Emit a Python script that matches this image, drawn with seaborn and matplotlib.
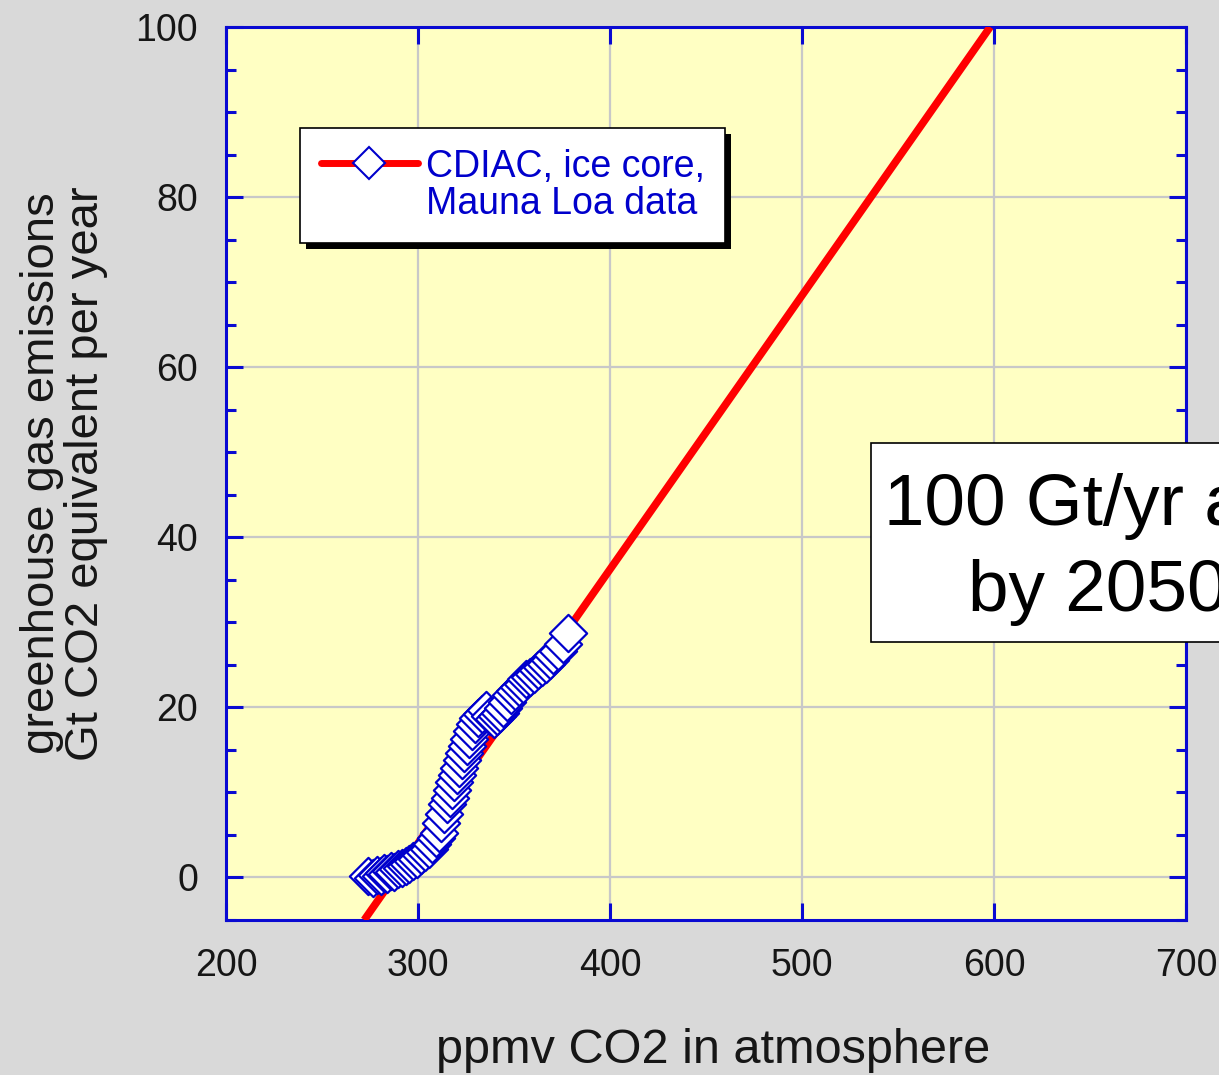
import matplotlib
matplotlib.use("Agg")
import matplotlib.pyplot as plt
import matplotlib.patheffects as pe
from matplotlib.lines import Line2D
from matplotlib.patches import Rectangle
from matplotlib.ticker import MultipleLocator
import seaborn as sns
import pandas as pd

# Atmospheric CO2 (ppmv) against greenhouse gas emissions (Gt CO2-eq per year)
co2_ppmv = [274.0, 276.5, 278.5, 280.5, 282.5, 284.0, 286.0, 287.5, 289.5, 291.5,
            293.5, 295.5, 297.5, 299.5, 301.5, 303.5, 305.5, 307.5, 309.5, 311.0,
            311.8, 313.5, 315.0, 316.5, 317.8, 319.0, 320.3, 321.5, 322.8, 324.0,
            325.3, 326.5, 328.0, 329.8, 331.5, 333.5, 335.5, 337.5, 339.5, 341.0,
            342.5, 344.5, 346.5, 348.5, 350.5, 352.5, 354.5, 356.5, 358.5, 360.5,
            362.5, 364.5, 366.5, 368.5, 370.5, 373.0, 375.5, 378.0]
emissions_gt = [0.2, -0.1, 0.3, 0.2, 0.5, 0.4, 0.8, 0.7, 1.0, 1.1,
                1.4, 1.6, 1.9, 2.2, 2.6, 3.0, 3.4, 3.9, 4.6, 5.2,
                6.4, 7.5, 8.6, 9.4, 10.3, 11.2, 12.0, 12.9, 13.8, 14.6,
                15.5, 16.3, 17.2, 18.0, 18.7, 19.2, 19.7, 19.0, 18.6, 19.0,
                19.3, 19.9, 20.6, 21.4, 21.9, 22.4, 22.8, 23.3, 23.6, 23.9,
                24.4, 24.8, 25.1, 25.6, 26.1, 26.6, 27.4, 28.8]

# Linear trend extended to 100 Gt/yr
trend_ppmv = [272.0, 598.0]
trend_gt = [-5.0, 100.0]

x_ticks = [200, 300, 400, 500, 600, 700]
y_ticks = [0, 20, 40, 60, 80, 100]

legend_lines = ["CDIAC, ice core,", "Mauna Loa data"]
x_label = "ppmv CO2 in atmosphere"
y_label = "greenhouse gas emissions\nGt CO2 equivalent per year"
note_line1 = "100 Gt/yr at"
note_line2 = "by 2050"

sns.set_theme(style="ticks")
plt.rcParams["font.family"] = ["Liberation Sans", "DejaVu Sans"]

BLUE = "#0a0ad2"
MARK_BLUE = "#0000cc"
INK = "#161616"

fig = plt.figure(figsize=(12.19, 10.75), dpi=100, facecolor="#d9d9d9")
ax = fig.add_axes([0.1854, 0.1442, 0.7875, 0.8307])
ax.set_facecolor("#ffffc3")

obs = pd.DataFrame({"ppmv": co2_ppmv, "gt": emissions_gt})
trend = pd.DataFrame({"ppmv": trend_ppmv, "gt": trend_gt})

sns.lineplot(data=trend, x="ppmv", y="gt", color="#ff0000", lw=5.5, ax=ax,
             zorder=3, solid_capstyle="butt")
sns.scatterplot(data=obs, x="ppmv", y="gt", marker="D", s=360, facecolor="white",
                edgecolor=MARK_BLUE, linewidth=1.6, ax=ax, zorder=4)

ax.set_xlim(200, 700)
ax.set_ylim(-5, 100)
ax.set_xticks(x_ticks)
ax.set_yticks(y_ticks)
ax.yaxis.set_minor_locator(MultipleLocator(5))

ax.set_axisbelow(True)
ax.grid(True, which="major", color="#c8c8c8", lw=1.6)

for s in ax.spines.values():
    s.set_color(BLUE)
    s.set_linewidth(2.2)

ax.tick_params(which="major", direction="in", length=12, width=2.2, color=BLUE,
               top=True, right=True, labelsize=27, labelcolor=INK)
ax.tick_params(axis="x", which="major", pad=20)
ax.tick_params(axis="y", which="major", pad=20)
ax.tick_params(which="minor", direction="in", length=7, width=2.2, color=BLUE,
               left=True, right=True)

ax.set_xlabel(x_label, fontsize=35, color=INK)
ax.set_ylabel(y_label, fontsize=34, color=INK, linespacing=1.0)
ax.xaxis.set_label_coords(0.507, -0.146)
ax.xaxis.label.set_va("center")
ax.yaxis.set_label_coords(-0.169, 0.5)
ax.yaxis.label.set_va("center")

# Legend: the symbol sits beside the first line of the two-line label
handle = Line2D([], [], color="#ff0000", lw=5, marker="D", markersize=16,
                markerfacecolor="white", markeredgecolor=MARK_BLUE, markeredgewidth=1.5)
blank = Line2D([], [], color="none", lw=0)
leg = ax.legend([handle, blank], legend_lines, loc="upper left",
                bbox_to_anchor=(0.077, 0.887), borderaxespad=0, fontsize=27,
                frameon=True, fancybox=False, edgecolor="black", facecolor="white",
                framealpha=1, handlelength=2.6, borderpad=0.55, handletextpad=0.2,
                labelspacing=0.04, labelcolor=MARK_BLUE)
frame = leg.get_frame()
frame.set_linewidth(1.2)
frame.set_path_effects([pe.SimplePatchShadow(offset=(4.5, -4.5), shadow_rgbFace="black",
                                             alpha=1), pe.Normal()])
leg.set_zorder(6)

# Note box running off the right edge
box = Rectangle((536, 27.7), 250, 23.4, facecolor="white", edgecolor="black",
                lw=1.2, clip_on=False, zorder=7)
ax.add_patch(box)
ax.text(542.5, 41.5, note_line1, fontsize=52.5, va="baseline", ha="left",
        color="black", zorder=8)
ax.text(586.3, 31.3, note_line2, fontsize=52.5, va="baseline", ha="left",
        color="black", zorder=8)

fig.savefig("out.png", dpi=100, facecolor=fig.get_facecolor())
